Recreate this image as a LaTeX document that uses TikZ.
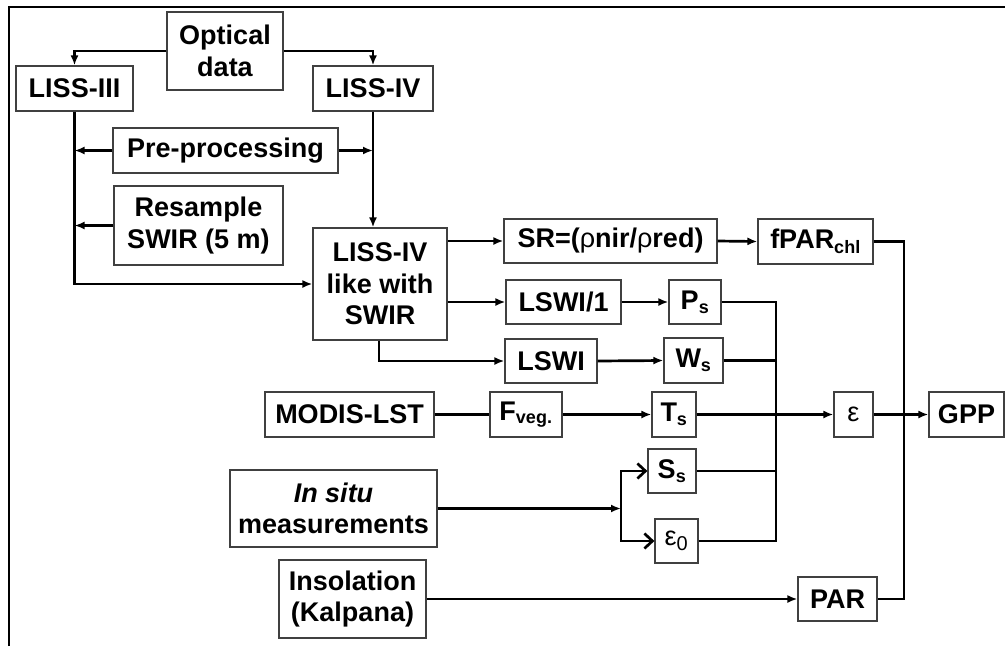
\documentclass[tikz,border=0pt]{standalone}
\usepackage{fontspec}
\setmainfont{Liberation Sans}
\usetikzlibrary{arrows.meta}
\tikzset{
  box/.style={draw=black!75, line width=1.2pt, inner sep=0pt, align=center,
    font=\fontsize{27}{31.5}\selectfont\bfseries},
  conn/.style={line width=2.7pt, draw=black},
  arr/.style={conn, -{Latex[length=10pt,width=8pt]}},
  barb/.style={conn, -{Straight Barb[length=8pt,width=15pt,line width=2.7pt]}},
  frame/.style={line width=1.6pt, draw=black}
}
\newcommand{\sub}[1]{\textsubscript{\fontsize{18}{18}\selectfont #1}}
\begin{document}
\begin{tikzpicture}[x=1pt,y=-1pt]
\useasboundingbox (0,0) rectangle (1005,646);
\draw[frame] (9,646) -- (9,7) -- (1005,7);
% nodes
\node[box, minimum width=116pt, minimum height=78pt] (opt) at (225,51) {Optical\\data};
\node[box, minimum width=117pt, minimum height=45pt] (l3) at (74.5,88.5) {LISS-III};
\node[box, minimum width=120pt, minimum height=45pt] (l4) at (373,88.5) {LISS-IV};
\node[box, minimum width=225pt, minimum height=45pt] (pre) at (225.5,150.5) {Pre-processing};
\node[box, minimum width=169pt, minimum height=79pt] (res) at (198.5,225.5) {Resample\\SWIR (5 m)};
\node[box, minimum width=134pt, minimum height=112pt] (lw) at (380,284) {LISS-IV\\like with\\SWIR};
\node[box, minimum width=213pt, minimum height=44pt] (sr) at (610.5,241) {SR=({\mdseries ρ}nir/{\mdseries ρ}red)};
\node[box, minimum width=115pt, minimum height=45pt] (fpar) at (815.5,241.5) {fPAR\sub{chl}};
\node[box, minimum width=115pt, minimum height=44pt] (lswi1) at (563.5,302) {LSWI/1};
\node[box, minimum width=52pt, minimum height=44pt] (ps) at (695,302) {P\sub{s}};
\node[box, minimum width=92pt, minimum height=44pt] (lswi) at (551,361) {LSWI};
\node[box, minimum width=59pt, minimum height=45pt] (ws) at (693.5,360.5) {W\sub{s}};
\node[box, minimum width=169pt, minimum height=45pt] (modis) at (349.5,414.5) {MODIS-LST};
\node[box, minimum width=72pt, minimum height=45pt] (fveg) at (526,414.5) {F\sub{veg.}};
\node[box, minimum width=44pt, minimum height=45pt] (ts) at (674,414.5) {T\sub{s}};
\node[box, minimum width=39pt, minimum height=45pt] (eps) at (853.5,414.5) {\mdseries ε};
\node[box, minimum width=75pt, minimum height=45pt] (gpp) at (966.5,414.5) {GPP};
\node[box, minimum width=48pt, minimum height=44pt] (ss) at (672,471) {S\sub{s}};
\node[box, minimum width=43pt, minimum height=44pt] (e0) at (676.5,541) {\mdseries ε\textsubscript{\fontsize{20}{20}\selectfont 0}};
\node[box, minimum width=207pt, minimum height=77pt] (insitu) at (333.5,508.5) {\itshape In situ\\measurements};
\node[box, minimum width=147pt, minimum height=78pt] (ins) at (352.5,599) {Insolation\\(Kalpana)};
\node[box, minimum width=79pt, minimum height=44pt] (par) at (837.5,599) {PAR};
% helper coordinates
\coordinate (col) at (776,302);
\coordinate (sp) at (621,508.5);
\coordinate (rt) at (904,241.5);
% connectors
\draw[arr] (opt.west) -| (l3.north);
\draw[arr] (opt.east) -| (l4.north);
\draw[arr] (pre.west) -- (l3.south |- pre.west);
\draw[arr] (pre.east) -- (l4.south |- pre.east);
\draw[arr] (res.west) -- (l3.south |- res.west);
\draw[arr] (l3.south) |- (lw.west);
\draw[arr] (l4.south) -- (l4.south |- lw.north);
\draw[arr] (lw.east |- sr.west) -- (sr.west);
\draw[arr] (lw.east |- lswi1.west) -- (lswi1.west);
\draw[arr] ([xshift=-1pt]lw.south) |- (lswi.west);
\draw[arr] (sr.east) -- (fpar.west);
\draw[arr] (lswi1.east) -- (ps.west);
\draw[arr] (lswi.east) -- (ws.west);
\draw[conn] (modis.east) -- (fveg.west);
\draw[arr] (fveg.east) -- (ts.west);
\draw[arr] (ts.east) -- (eps.west);
\draw[arr] (eps.east) -- (gpp.west);
\draw[conn] (ps.east) -- (col) -- (col |- e0.east) -- (e0.east);
\draw[conn] (ws.east) -- (col |- ws.east);
\draw[conn] (ss.east) -- (col |- ss.east);
\draw[arr] (insitu.east) -- (sp);
\draw[barb] (sp) -- (sp |- ss.west) -- (ss.west);
\draw[barb] (sp) -- (sp |- e0.west) -- (e0.west);
\draw[arr] (ins.east) -- (par.west);
\draw[conn] (fpar.east) -- (rt) -- (rt |- par.east) -- (par.east);
\end{tikzpicture}
\end{document}
